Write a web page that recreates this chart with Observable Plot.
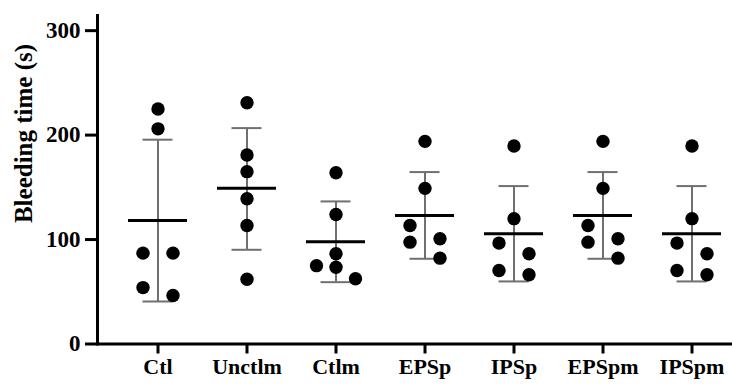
<!DOCTYPE html>
<html>
<head>
<meta charset="utf-8">
<script src="https://cdn.jsdelivr.net/npm/d3@7"></script>
<script src="https://cdn.jsdelivr.net/npm/@observablehq/plot@0.6"></script>
<style>
  html, body { margin: 0; padding: 0; background: #fff; }
  #chart svg { display: block; }
</style>
</head>
<body>
<div id="chart"></div>
<script>
const categories = ["Ctl", "Unctlm", "Ctlm", "EPSp", "IPSp", "EPSpm", "IPSpm"];

// individual observations per group (seconds)
const ctlValues    = [225, 206, 87, 87, 54, 46.5];
const unctlmValues = [231, 181, 165, 139, 113.5, 62];
const ctlmValues   = [164, 124, 86.5, 75, 73.5, 62.5];
const epspValues   = [194, 149, 113.5, 97.5, 100.7, 82.2];
const ipspValues   = [189.5, 120, 96.6, 70.4, 86.4, 66.3];
const epspmValues  = [194, 149, 113.5, 97.5, 100.7, 82.2];
const ipspmValues  = [189.5, 120, 96.6, 70.4, 86.4, 66.3];

// horizontal side of each dot within its group (-1 left, 0 centre, 1 right)
const ctlSides    = [0, 0, -1, 1, -1, 1];
const unctlmSides = [0, 0, 0, 0, 0, 0];
const ctlmSides   = [0, 0, 0, -1.3, 0, 1.3];
const epspSides   = [0, 0, -1, -1, 1, 1];
const ipspSides   = [0, 0, -1, -1, 1, 1];
const epspmSides  = [0, 0, -1, -1, 1, 1];
const ipspmSides  = [0, 0, -1, -1, 1, 1];

// summary: mean and mean ± SD
const means = [118.3, 149.2, 97.9, 123.1, 105.6, 123.1, 105.6];
const upper = [195.6, 206.7, 136.5, 164.6, 151.2, 164.6, 151.2];
const lower = [40.7, 90.2, 59.2, 81.6, 59.9, 81.6, 59.9];

const yTicks = [0, 100, 200, 300];
const yTitle = "Bleeding time (s)";

const groups = [
  [ctlValues, ctlSides], [unctlmValues, unctlmSides], [ctlmValues, ctlmSides],
  [epspValues, epspSides], [ipspValues, ipspSides], [epspmValues, epspmSides],
  [ipspmValues, ipspmSides]
];
const points = groups.flatMap(([vals, sides], i) =>
  vals.map((v, j) => ({group: categories[i], value: v, side: sides[j]})));
const summary = categories.map((c, i) => ({group: c, mean: means[i], hi: upper[i], lo: lower[i]}));

const font = "'Liberation Serif', 'Times New Roman', serif";
const step = 89;
const first = 157;
const last = first + step * (categories.length - 1);
const off = 15;

const sideGroups = Array.from(new Set(points.map(d => d.side)));

const plot = Plot.plot({
  width: 732,
  height: 385,
  marginLeft: 97,
  marginRight: 0,
  marginTop: 15,
  marginBottom: 41.5,
  style: {fontFamily: font, fontWeight: "bold", background: "#fff"},
  x: {type: "band", domain: categories, range: [first - step / 2, last + step / 2], padding: 0},
  y: {domain: [0, 314.5]},
  marks: [
    Plot.ruleX(summary, {x: "group", y1: "lo", y2: "hi", stroke: "#707070", strokeWidth: 2}),
    Plot.tickY(summary, {x: "group", y: "hi", stroke: "#707070", strokeWidth: 2, insetLeft: (step - 30) / 2, insetRight: (step - 30) / 2}),
    Plot.tickY(summary, {x: "group", y: "lo", stroke: "#707070", strokeWidth: 2, insetLeft: (step - 30) / 2, insetRight: (step - 30) / 2}),
    ...sideGroups.map(s => Plot.dot(points.filter(d => d.side === s), {x: "group", y: "value", r: 6.7, fill: "#000", stroke: "none", dx: s * off})),
    Plot.tickY(summary, {x: "group", y: "mean", stroke: "#000", strokeWidth: 3, insetLeft: (step - 59) / 2, insetRight: (step - 59) / 2}),
    Plot.axisY({ticks: yTicks, tickSize: 12, tickPadding: 5, strokeWidth: 3, fontSize: 23, fontWeight: "bold", fill: "#000", label: null}),
    Plot.axisX({tickSize: 10, tickPadding: 4, strokeWidth: 3, fontSize: 22, fontWeight: "bold", fill: "#000", label: null}),
    Plot.ruleY([0], {stroke: "#000", strokeWidth: 3}),
    Plot.frame({anchor: "left", stroke: "#000", strokeWidth: 3}),
    Plot.text([yTitle], {frameAnchor: "top-left", dx: -74, dy: 118, rotate: -90, textAnchor: "middle", lineAnchor: "middle", fontSize: 25, fontWeight: "bold", fill: "#000"})
  ]
});
document.getElementById("chart").appendChild(plot);
</script>
</body>
</html>
